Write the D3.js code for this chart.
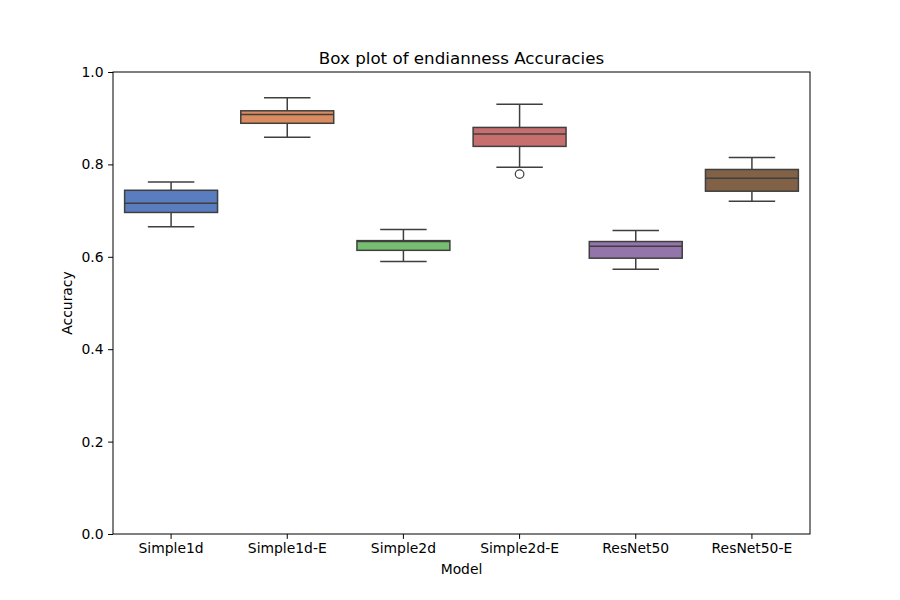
<!DOCTYPE html>
<html>
<head>
<meta charset="utf-8">
<script src="https://cdn.jsdelivr.net/npm/d3@7"></script>
<style>
  body { margin: 0; background: #fff; }
  text { font-family: "DejaVu Sans", sans-serif; fill: #000; }
</style>
</head>
<body>
<div id="chart"></div>
<script>
// data
var models = ["Simple1d", "Simple1d-E", "Simple2d", "Simple2d-E", "ResNet50", "ResNet50-E"];
var whiskerLow  = [0.665, 0.859, 0.590, 0.794, 0.573, 0.720];
var q1          = [0.696, 0.889, 0.614, 0.839, 0.597, 0.742];
var medians     = [0.716, 0.908, 0.633, 0.866, 0.623, 0.770];
var q3          = [0.744, 0.916, 0.635, 0.880, 0.633, 0.789];
var whiskerHigh = [0.762, 0.944, 0.659, 0.930, 0.657, 0.815];
var outliers    = [[], [], [], [0.779], [], []];
var yTicks = [0.0, 0.2, 0.4, 0.6, 0.8, 1.0];
var colors = ["#597dbf", "#da8b5f", "#76bf71", "#c76e6e", "#9475ab", "#826246"];

var svgWidth = 900;
var svgHeight = 600;
var margins = { top: 72, bottom: 66, left: 113, right: 90 };
var width = svgWidth - margins.left - margins.right;
var height = svgHeight - margins.top - margins.bottom;

var svg = d3.select("#chart")
    .append("svg")
    .attr("width", svgWidth)
    .attr("height", svgHeight);

var group = svg.append("g")
    .attr("transform", `translate(${margins.left}, ${margins.top})`);

var xScale = d3.scaleBand()
    .domain(models)
    .range([0, width])
    .paddingInner(0)
    .paddingOuter(0);

var yScale = d3.scaleLinear()
    .domain([0, 1])
    .range([height, 0]);

var boxes = models.map(function(m, i) {
    return {
        model: m, lo: whiskerLow[i], q1: q1[i], med: medians[i],
        q3: q3[i], hi: whiskerHigh[i], out: outliers[i], color: colors[i]
    };
});

var lineColor = "#3f3f3f";
var boxW = xScale.bandwidth() * 0.8;
var capW = boxW / 2;

var boxG = group.selectAll(".box")
    .data(boxes)
    .enter()
    .append("g")
    .attr("class", "box")
    .attr("transform", d => `translate(${xScale(d.model) + xScale.bandwidth() / 2}, 0)`);

// whiskers
boxG.append("line")
    .attr("x1", 0).attr("x2", 0)
    .attr("y1", d => yScale(d.q3)).attr("y2", d => yScale(d.hi))
    .attr("stroke", lineColor).attr("stroke-width", 1.5);
boxG.append("line")
    .attr("x1", 0).attr("x2", 0)
    .attr("y1", d => yScale(d.q1)).attr("y2", d => yScale(d.lo))
    .attr("stroke", lineColor).attr("stroke-width", 1.5);
// caps
boxG.append("line")
    .attr("x1", -capW / 2).attr("x2", capW / 2)
    .attr("y1", d => yScale(d.hi)).attr("y2", d => yScale(d.hi))
    .attr("stroke", lineColor).attr("stroke-width", 1.5);
boxG.append("line")
    .attr("x1", -capW / 2).attr("x2", capW / 2)
    .attr("y1", d => yScale(d.lo)).attr("y2", d => yScale(d.lo))
    .attr("stroke", lineColor).attr("stroke-width", 1.5);
// box
boxG.append("rect")
    .attr("x", -boxW / 2)
    .attr("width", boxW)
    .attr("y", d => yScale(d.q3))
    .attr("height", d => yScale(d.q1) - yScale(d.q3))
    .attr("fill", d => d.color)
    .attr("stroke", lineColor).attr("stroke-width", 1.5);
// median
boxG.append("line")
    .attr("x1", -boxW / 2).attr("x2", boxW / 2)
    .attr("y1", d => yScale(d.med)).attr("y2", d => yScale(d.med))
    .attr("stroke", lineColor).attr("stroke-width", 1.5);
// outliers
boxG.selectAll(".flier")
    .data(d => d.out)
    .enter()
    .append("circle")
    .attr("class", "flier")
    .attr("cx", 0)
    .attr("cy", d => yScale(d))
    .attr("r", 4.3)
    .attr("fill", "none")
    .attr("stroke", lineColor).attr("stroke-width", 1.2);

// axes
var xAxis = d3.axisBottom(xScale).tickSize(4.9).tickPadding(4.5);
var yAxis = d3.axisLeft(yScale).tickValues(yTicks).tickFormat(d3.format(".1f")).tickSize(4.9).tickPadding(4.5);

var xg = group.append("g")
    .attr("transform", `translate(0, ${height})`)
    .call(xAxis);
var yg = group.append("g")
    .call(yAxis);

[xg, yg].forEach(function(g) {
    g.select(".domain").remove();
    g.selectAll(".tick line").attr("stroke", "#000").attr("stroke-width", 1);
    g.selectAll(".tick text").style("font-size", "13.9px").attr("fill", "#000");
});

// frame
group.append("rect")
    .attr("x", 0).attr("y", 0)
    .attr("width", width).attr("height", height)
    .attr("fill", "none")
    .attr("stroke", "#000").attr("stroke-width", 1);

// title
group.append("text")
    .attr("x", width / 2)
    .attr("y", -8)
    .attr("text-anchor", "middle")
    .style("font-size", "16.7px")
    .text("Box plot of endianness Accuracies");

// x label
group.append("text")
    .attr("x", width / 2)
    .attr("y", height + 40)
    .attr("text-anchor", "middle")
    .style("font-size", "13.9px")
    .text("Model");

// y label
group.append("text")
    .attr("transform", "rotate(-90)")
    .attr("x", -height / 2)
    .attr("y", -41)
    .attr("text-anchor", "middle")
    .style("font-size", "13.9px")
    .text("Accuracy");
</script>
</body>
</html>
